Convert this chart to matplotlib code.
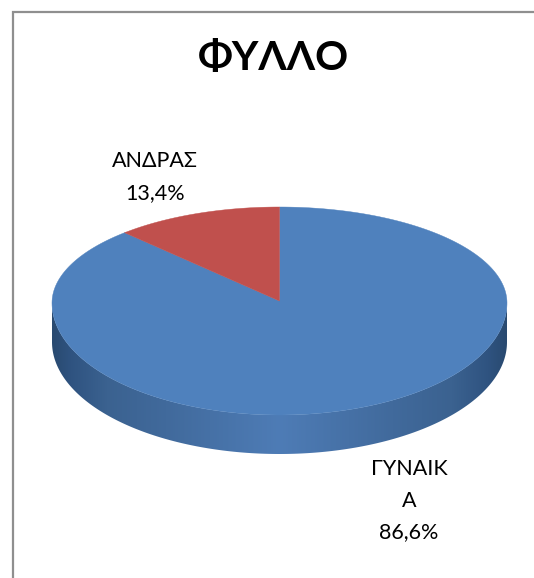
import numpy as np
import matplotlib
matplotlib.use("Agg")
import matplotlib.pyplot as plt
from matplotlib.patches import Polygon

plt.rcParams['font.family'] = ['Lato', 'Noto Sans', 'DejaVu Sans']

# =====================================================
# DATA
# =====================================================

title = "ΦΥΛΛΟ"
labels = ["ΓΥΝΑΙΚ\nΑ", "ΑΝΔΡΑΣ"]
values = [86.6, 13.4]
colors = ["#4f81bd", "#c0504d"]

# side shading, left edge to the middle of the pie
side_stops = [0.0, 0.04, 0.12, 0.25, 0.5, 0.75, 0.88, 0.96, 1.0]
side_colors = ["#294a70", "#2f5380", "#3b6290", "#416a9c", "#4e7cb6",
               "#416a9c", "#3b6290", "#2f5380", "#294a70"]

# =====================================================
# GEOMETRY (pixels)
# =====================================================

CX = 279.5
APEX_Y = 301.0     # the pie centre as drawn
EDGE_Y = 303.0     # height of the widest point of the outline
RX = 227.5
RY_FAR = 96.0
RY_NEAR = 112.0
PERSPECTIVE = 0.83
DEPTH = 39


def project(angle):
    # angle is measured clockwise from 12 o'clock
    phi = np.arctan2(np.sin(angle) * PERSPECTIVE, np.cos(angle))
    ry = np.where(np.cos(phi) > 0, RY_FAR, RY_NEAR)
    return CX + RX * np.sin(phi), EDGE_Y - ry * np.cos(phi)


fig = plt.figure(figsize=(5.34, 5.78), dpi=100)
ax = fig.add_axes([0, 0, 1, 1])
ax.set_xlim(0, 534)
ax.set_ylim(578, 0)
ax.axis("off")

# chart border runs off the right and bottom of the crop
ax.plot([13, 13, 540], [585, 12, 12], color="#8f8f8f", lw=1.6, solid_joinstyle="miter")

# =====================================================
# SIDE OF THE PIE
# =====================================================

t = np.linspace(0, 2 * np.pi, 721)
ox, oy = project(t)
left = ox.argmin()
right = ox.argmax()
front = np.arange(right, left + 1)
side_xy = np.column_stack([
    np.concatenate([ox[front], ox[front][::-1]]),
    np.concatenate([oy[front], oy[front][::-1] + DEPTH]),
])
side_patch = Polygon(side_xy, closed=True, facecolor="none", edgecolor="none")
ax.add_patch(side_patch)

cmap = matplotlib.colors.LinearSegmentedColormap.from_list(
    "side", list(zip(side_stops, side_colors))
)
img = ax.imshow(
    np.linspace(0, 1, 512).reshape(1, -1),
    cmap=cmap,
    aspect="auto",
    extent=[ox.min(), ox.max(), oy.max() + DEPTH, oy.min()],
)
img.set_clip_path(side_patch)
ax.set_xlim(0, 534)
ax.set_ylim(578, 0)

# =====================================================
# TOP OF THE PIE
# =====================================================

edges = np.cumsum([0] + values) / sum(values) * 2 * np.pi
for i in range(len(values)):
    a = np.linspace(edges[i], edges[i + 1], 300)
    x, y = project(a)
    ax.fill(np.r_[CX, x], np.r_[APEX_Y, y], color=colors[i], lw=0.3)

# =====================================================
# TEXT
# =====================================================

ax.text(273, 58, title, fontsize=29.5, fontweight="bold", ha="center", va="center", color="black")

label_pos = [(409, 501), (155, 177)]
for i in range(len(values)):
    txt = labels[i] + "\n" + f"{values[i]:.1f}%".replace(".", ",")
    ax.text(label_pos[i][0], label_pos[i][1], txt, fontsize=15.5, ha="center", va="center",
            color="black", linespacing=1.72)

plt.savefig("out.png", dpi=100)
plt.close()
